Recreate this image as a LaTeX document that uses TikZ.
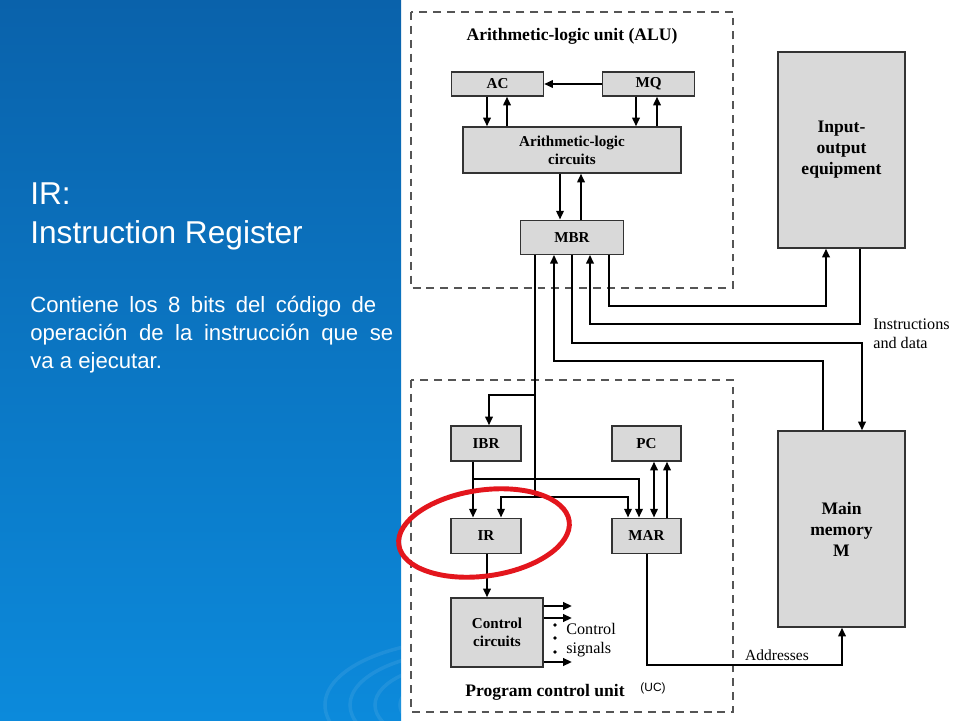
\documentclass[tikz,border=0pt]{standalone}
\usepackage{fontspec}
\setmainfont{Liberation Serif}
\newfontfamily\slidefont{Liberation Sans}
\usetikzlibrary{positioning,arrows.meta}
\definecolor{slidetop}{HTML}{0A62AB}
\definecolor{slidemid}{HTML}{0B6BB8}
\definecolor{slidebot}{HTML}{0C8ADB}
\definecolor{regfill}{HTML}{D9D9D9}
\definecolor{dashframe}{HTML}{555555}
\definecolor{circ}{HTML}{E3161D}
\tikzset{
  reg/.style={rectangle, draw=black!80, fill=regfill, line width=0.7pt, inner sep=0pt,
              align=center, font=\fontsize{8.6}{10.4}\selectfont\bfseries},
  unitframe/.style={draw=dashframe, line width=0.8pt, dash pattern=on 4.5pt off 3.4pt},
  wire/.style={line width=1.4pt, draw=black},
  bus/.style={wire, -{Triangle[length=5pt,width=4.2pt]}},
  ttl/.style={font=\fontsize{10}{11.9}\selectfont\bfseries, align=center},
  note/.style={font=\fontsize{9.2}{10.8}\selectfont, align=left, inner sep=0pt},
  slide/.style={text=white, inner sep=0pt, anchor=base west}
}
\begin{document}
\begin{tikzpicture}[x=0.02cm, y=-0.02cm]
\useasboundingbox (0,0) rectangle (960,720);
\fill[white] (0,0) rectangle (960,720);
\shade[top color=slidetop, middle color=slidemid, bottom color=slidebot] (0,0) rectangle (401,720);
\begin{scope}
  \clip (0,0) rectangle (401,720);
  \foreach \r in {70,95,120,145}
    \draw[white, opacity=0.08, line width=2pt] (470,705) ellipse ({\r} and {0.45*\r});
\end{scope}

\node[slide, font=\slidefont\fontsize{18}{21}\selectfont] (irtitle) at (30,204) {IR:};
\node[slide, font=\slidefont\fontsize{18}{21}\selectfont] (irname) at (30,243) {Instruction Register};
\node[slide, font=\slidefont\fontsize{12.6}{15}\selectfont] (line1) at (30,312) {\makebox[6.92cm][s]{Contiene los 8 bits del código de}};
\node[slide, font=\slidefont\fontsize{12.6}{15}\selectfont] (line2) at (30,340) {\makebox[7.26cm][s]{operación de la instrucción que se}};
\node[slide, font=\slidefont\fontsize{12.6}{15}\selectfont] (line3) at (30,368) {va a ejecutar.};

\draw[unitframe] (411,12) rectangle (733,288);
\draw[unitframe] (411,380) rectangle (733,712);
\node[ttl] (alutitle) at (572,36) {Arithmetic-logic unit (ALU)};
\node[ttl] (pcutitle) at (545,692) {Program control unit};
\node[font=\slidefont\fontsize{6.8}{8}\selectfont] (uc) at (653,688) {(UC)};

\node[reg, minimum width=1.84cm, minimum height=0.48cm] (ac) at (497.5,84) {AC};
\node[reg, minimum width=1.84cm, minimum height=0.48cm, right=1.16cm of ac] (mq) {MQ};
\node[reg, minimum width=4.36cm, minimum height=0.92cm] (alc) at (572,150) {Arithmetic-logic\\circuits};
\node[reg, minimum width=2.06cm, minimum height=0.68cm, below=0.92cm of alc] (mbr) {MBR};
\node[reg, ttl, minimum width=2.54cm, minimum height=3.92cm] (io) at (841.5,150) {Input-\\output\\equipment};
\node[reg, ttl, minimum width=2.54cm, minimum height=3.92cm] (mem) at (841.5,529) {Main\\memory\\M};
\node[reg, minimum width=1.4cm, minimum height=0.7cm] (ibr) at (486,443.5) {IBR};
\node[reg, minimum width=1.4cm, minimum height=0.7cm, below=1.12cm of ibr] (ir) {IR};
\node[reg, minimum width=1.38cm, minimum height=0.7cm] (pc) at (646.5,443.5) {PC};
\node[reg, minimum width=1.38cm, minimum height=0.7cm, below=1.12cm of pc] (mar) {MAR};
\node[reg, minimum width=1.84cm, minimum height=1.38cm] (cc) at (497,632.5) {Control\\circuits};

\draw[bus] (mq.west) -- (ac.east);
\draw[bus] (ac.south -| 487,0) -- (alc.north -| 487,0);
\draw[bus] (alc.north -| 507,0) -- (ac.south -| 507,0);
\draw[bus] (mq.south -| 636,0) -- (alc.north -| 636,0);
\draw[bus] (alc.north -| 657,0) -- (mq.south -| 657,0);
\draw[bus] (alc.south -| 560,0) -- (mbr.north -| 560,0);
\draw[bus] (mbr.north -| 581,0) -- (alc.south -| 581,0);

\draw[bus] (mbr.south -| 609,0) |- (826,306) -- (io.south -| 826,0);
\draw[bus] (io.south -| 860,0) |- (590,324) -- (mbr.south -| 590,0);
\draw[bus] (mbr.south -| 572,0) |- (862,343) -- (mem.north -| 862,0);
\draw[bus] (mem.north -| 823,0) |- (554,361) -- (mbr.south -| 554,0);
\node[note, anchor=west] (instr) at (873,334) {Instructions\\and data};

\draw[wire] (mbr.south -| 535,0) -- (535,497);
\draw[bus] (535,395) -| (ibr.north -| 489,0);
\draw[bus] (535,497) -| (ir.north -| 501,0);
\draw[bus] (535,497) -| (mar.north -| 628,0);
\draw[bus] (ibr.south -| 473,0) -- (ir.north -| 473,0);
\draw[bus] (473,479) -| (mar.north -| 639,0);
\draw[bus, {Triangle[length=5pt,width=4.2pt]}-{Triangle[length=5pt,width=4.2pt]}] (mar.north -| 654,0) -- (pc.south -| 654,0);
\draw[bus] (mar.north -| 667,0) -- (pc.south -| 667,0);
\draw[bus] (ir.south -| 487,0) -- (cc.north -| 487,0);

\foreach \y in {606,618,662}
  \draw[bus] (cc.east |- 0,\y) -- (572,\y);
\foreach \y in {625,638,652}
  \fill (555,\y) circle (1.1pt);
\node[note, anchor=west] (ctrl) at (566,640) {Control\\signals};

\draw[bus] (mar.south -| 647,0) |- (842,665) -- (mem.south -| 842,0);
\node[note, font=\fontsize{8.8}{10}\selectfont] (addr) at (777,655) {Addresses};

\draw[circ, line width=2.8pt, rotate around={8:(484,533)}] (484,533) ellipse (86 and 43);
\end{tikzpicture}
\end{document}
